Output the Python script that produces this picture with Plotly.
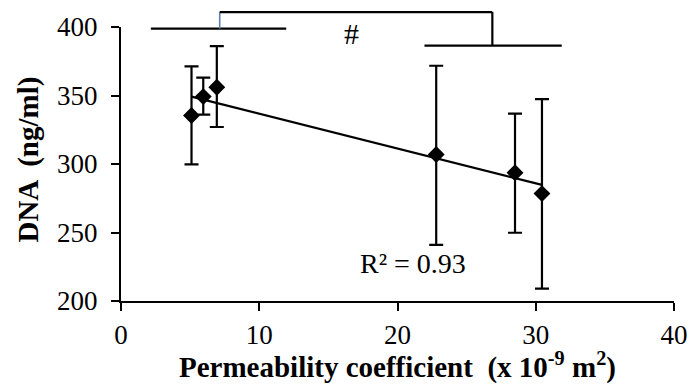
import numpy as np
import plotly.graph_objects as go

# Data
perm = [5.1, 5.95, 6.93, 22.8, 28.5, 30.45]          # permeability coefficient (x 10^-9 m^2)
dna = [335.4, 349.2, 356.0, 306.9, 293.6, 278.4]     # DNA (ng/ml)
err_plus = [35.8, 13.8, 30.0, 64.8, 43.1, 68.9]
err_minus = [35.7, 13.2, 29.0, 65.9, 43.8, 69.4]
x_ticks = [0, 10, 20, 30, 40]
y_ticks = [200, 250, 300, 350, 400]
r2_text = "R² = 0.93"
x_title = "<b>Permeability coefficient  (x 10<sup>-9</sup> m<sup>2</sup>)</b>"
y_title = "<b>DNA  (ng/ml)</b>"

# Linear trendline through the data
slope, intercept = np.polyfit(perm, dna, 1)
trend_x = [min(perm), max(perm)]
trend_y = [slope * v + intercept for v in trend_x]

Y_MIN, Y_MAX = 200, 400


def ypaper(v):
    return (v - Y_MIN) / (Y_MAX - Y_MIN)


serif = "Liberation Serif, Times New Roman, serif"

fig = go.Figure()
fig.add_trace(go.Scatter(
    x=trend_x, y=trend_y, mode="lines",
    line=dict(color="black", width=2.2), hoverinfo="skip", showlegend=False))
fig.add_trace(go.Scatter(
    x=perm, y=dna, mode="markers",
    marker=dict(symbol="diamond", size=13, color="black"),
    error_y=dict(type="data", symmetric=False, array=err_plus, arrayminus=err_minus,
                 color="black", thickness=2.2, width=7),
    showlegend=False, cliponaxis=False))

# Significance brackets (above the plot)
blk = dict(color="black", width=2.2)
shapes = [
    dict(type="line", xref="x", yref="paper", x0=2.16, x1=11.95, y0=ypaper(398.8), y1=ypaper(398.8), line=blk),
    dict(type="line", xref="x", yref="paper", x0=7.14, x1=7.14, y0=ypaper(398.8), y1=ypaper(410.9),
         line=dict(color="#5a7fb0", width=1.6)),
    dict(type="line", xref="x", yref="paper", x0=7.14, x1=26.86, y0=ypaper(410.9), y1=ypaper(410.9), line=blk),
    dict(type="line", xref="x", yref="paper", x0=26.86, x1=26.86, y0=ypaper(410.9), y1=ypaper(386.4), line=blk),
    dict(type="line", xref="x", yref="paper", x0=21.95, x1=31.88, y0=ypaper(386.4), y1=ypaper(386.4), line=blk),
]

annotations = [
    dict(x=16.7, y=395.0, xref="x", yref="y", text="#", showarrow=False,
         font=dict(family=serif, size=30, color="black")),
    dict(x=21.1, y=227.4, xref="x", yref="y", text=r2_text, showarrow=False,
         font=dict(family=serif, size=28, color="black")),
    dict(x=0.5, y=-0.236, xref="paper", yref="paper", text=x_title, showarrow=False,
         xanchor="center", yanchor="middle",
         font=dict(family=serif, size=29, color="black")),
    dict(x=-0.167, y=0.515, xref="paper", yref="paper", text=y_title, showarrow=False,
         xanchor="center", yanchor="middle", textangle=-90,
         font=dict(family=serif, size=29, color="black")),
]

axis_common = dict(
    showline=True, linecolor="black", linewidth=2.2,
    ticks="outside", ticklen=8, tickwidth=2.2, tickcolor="black",
    showgrid=False, zeroline=False,
    tickfont=dict(family=serif, size=27, color="black"),
)

fig.update_layout(
    width=700, height=385,
    margin=dict(l=121, r=19, t=25, b=84),
    plot_bgcolor="white", paper_bgcolor="white",
    xaxis=dict(range=[0, 40], tickvals=x_ticks, **axis_common),
    yaxis=dict(range=[Y_MIN, Y_MAX], tickvals=y_ticks, **axis_common, ticklabelstandoff=8),
    shapes=shapes, annotations=annotations,
)

fig.write_html("out.html")
